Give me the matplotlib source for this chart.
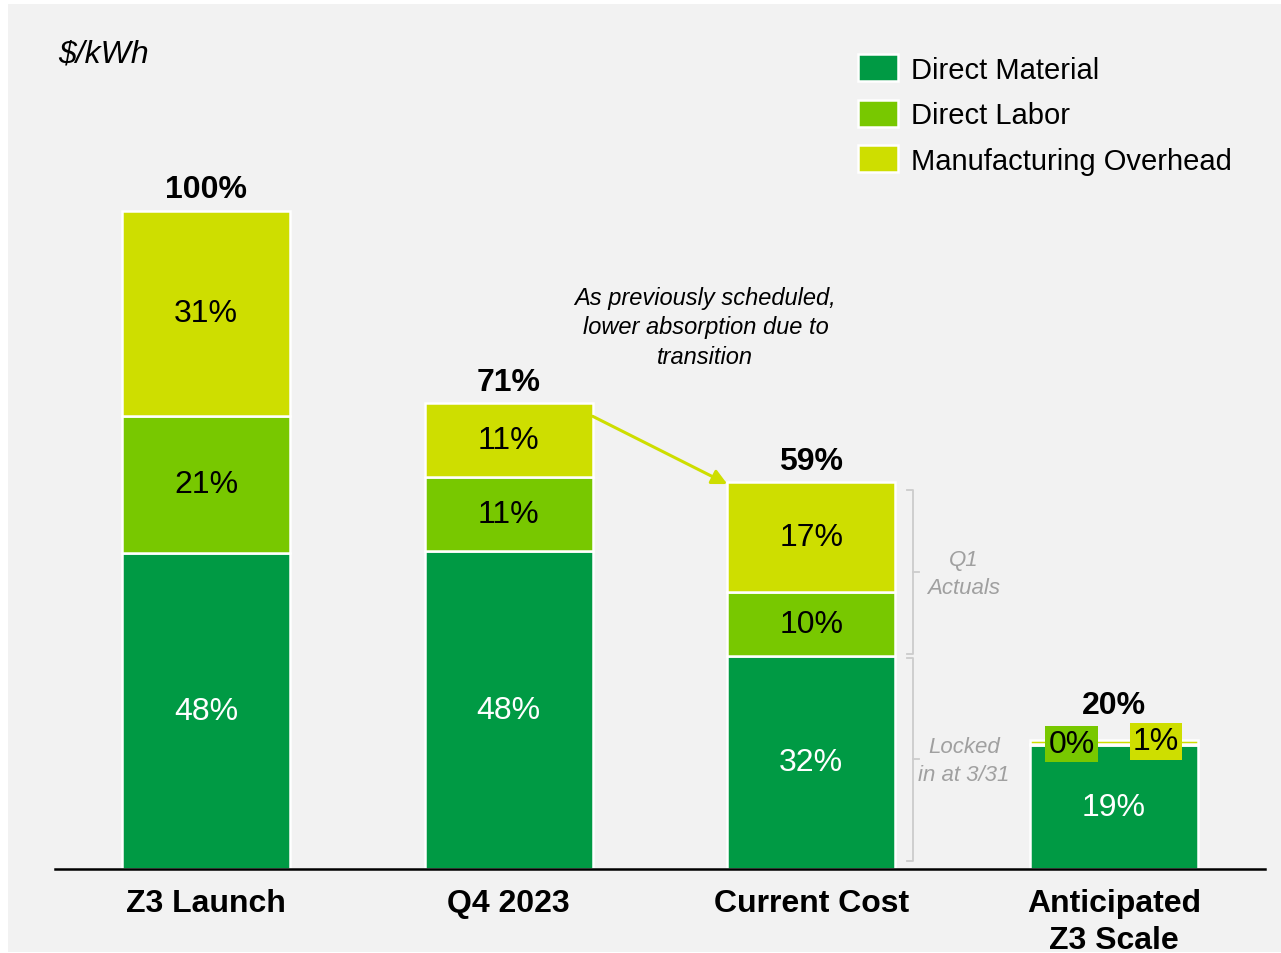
import matplotlib.pyplot as plt
import matplotlib.patches as mpatches
import numpy as np

plt.rcParams['font.family'] = ['Liberation Sans', 'DejaVu Sans']

# data ($/kWh, % of Z3 launch cost)
categories = ['Z3 Launch', 'Q4 2023', 'Current Cost', 'Anticipated\nZ3 Scale']
direct_material = [48.0, 48.3, 32.4, 18.8]
direct_labor = [20.9, 11.2, 9.7, 0.2]
mfg_overhead = [31.1, 11.3, 16.7, 0.6]
series_names = ['Direct Material', 'Direct Labor', 'Manufacturing Overhead']
colors = ['#009a44', '#78c800', '#cede00']

fig = plt.figure(figsize=(12.81, 9.54), dpi=100)
fig.patch.set_facecolor('white')
# light grey panel behind everything
fig.patches.append(mpatches.Rectangle((8 / 1281, 1 / 954), 1 - 8 / 1281, 948 / 954,
                                      transform=fig.transFigure, facecolor='#f2f2f2',
                                      edgecolor='none', zorder=-10))

ax = fig.add_axes([55 / 1281, 84 / 954, 1210 / 1281, 865 / 954])
ax.set_facecolor('none')
ax.set_xlim(-0.5, 3.5)
ax.set_ylim(0, 865 / 6.58)

x = np.arange(len(categories))
w = 0.555
bottom = np.zeros(len(categories))
bars = []
for vals, name, c in zip([direct_material, direct_labor, mfg_overhead], series_names, colors):
    b = ax.bar(x, vals, w, bottom=bottom, color=c, edgecolor='white', linewidth=1.8, label=name)
    bars.append((vals, bottom.copy()))
    bottom = bottom + np.array(vals)

# segment labels (last bar handled separately)
for i in range(3):
    for k, (vals, bot) in enumerate(bars):
        ax.text(x[i], bot[i] + vals[i] / 2, '%d%%' % round(vals[i]), ha='center', va='center',
                fontsize=23, color='white' if k == 0 else 'black')
ax.text(x[3], direct_material[3] / 2, '%d%%' % round(direct_material[3]), ha='center',
        va='center', fontsize=23, color='white')
ax.text(x[3] - 0.14, bottom[3] - 0.6, '%d%%' % round(direct_labor[3]), ha='center', va='center',
        fontsize=23, color='black',
        bbox=dict(boxstyle='square,pad=0.1', facecolor=colors[1], edgecolor='none'))
ax.text(x[3] + 0.14, bottom[3] - 0.2, '%d%%' % round(mfg_overhead[3]), ha='center', va='center',
        fontsize=23, color='black',
        bbox=dict(boxstyle='square,pad=0.1', facecolor=colors[2], edgecolor='none'))

# totals
for i in range(len(categories)):
    off = 3.0 if i == 3 else 1.0
    ax.text(x[i], bottom[i] + off, '%d%%' % round(bottom[i]), ha='center', va='bottom',
            fontsize=23, fontweight='bold')

# arrow between Q4 and current overhead
ax.annotate('', xy=(x[2] - w / 2, bottom[2] - 0.3), xytext=(x[1] + w / 2, bottom[1] - 2.0),
            arrowprops=dict(arrowstyle='-|>,head_length=0.9,head_width=0.45', color=colors[2],
                            lw=2.2, shrinkA=0, shrinkB=0))
ax.text(1.65, 82.4, 'As previously scheduled,\nlower absorption due to\ntransition', ha='center',
        va='center', fontsize=17, style='italic', linespacing=1.36)

# brackets on the right of current cost
def bracket(y0, y1, label):
    xb = x[2] + w / 2 + 0.04
    ax.plot([xb, xb + 0.02, xb + 0.02, xb], [y0, y0, y1, y1], color='#cccccc', lw=1.3,
            clip_on=False)
    ym = (y0 + y1) / 2
    ax.plot([xb + 0.02, xb + 0.04], [ym, ym], color='#cccccc', lw=1.3)
    ax.text(x[2] + 0.505, ym - 0.2, label, ha='center', va='center', fontsize=16,
            style='italic', color='#a0a0a0', linespacing=1.45)

bracket(direct_material[2] + 0.3, bottom[2] - 1.2, 'Q1\nActuals')
bracket(1.2, direct_material[2] - 0.3, 'Locked\nin at 3/31')

ax.text(-0.488, 123.9, '$/kWh', ha='left', va='center', fontsize=23, style='italic')

ax.set_xticks(x)
ax.set_xticklabels(categories, fontsize=23, fontweight='bold', linespacing=1.3)
ax.tick_params(axis='x', length=0, pad=14)
ax.set_yticks([])
for s in ['top', 'right', 'left']:
    ax.spines[s].set_visible(False)
ax.spines['bottom'].set_linewidth(1.8)

ax.legend(loc='upper right', bbox_to_anchor=(0.987, 0.962), frameon=False, fontsize=21,
          handlelength=1.38, handleheight=1.05, handletextpad=0.45, labelspacing=0.55,
          borderaxespad=0.2)

fig.savefig('out.png', dpi=100, facecolor=fig.get_facecolor())
